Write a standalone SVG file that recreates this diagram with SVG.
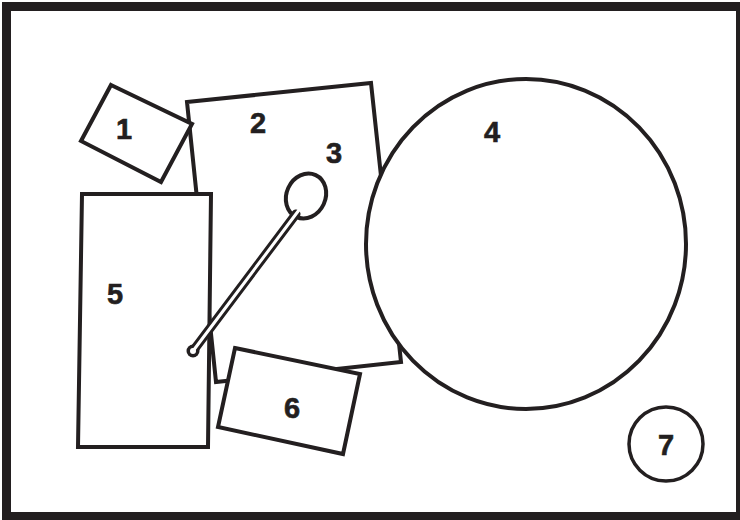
<svg xmlns="http://www.w3.org/2000/svg" width="740" height="520" viewBox="0 0 740 520">
<style>
.s{fill:#fff;stroke:#231f20;stroke-width:4;stroke-linejoin:miter}
.t{font-family:"Liberation Sans",Arial,sans-serif;font-weight:bold;font-size:29px;fill:#231f20;text-anchor:middle;stroke:#231f20;stroke-width:0.6}
</style>
<rect x="0" y="0" width="740" height="520" fill="#fff"/>
<rect id="frame" x="6.5" y="6.5" width="734" height="510" fill="none" stroke="#231f20" stroke-width="9"/>
<g id="n2">
<polygon class="s" points="187,102 371,83 401,362 216,382"/>
<text class="t" x="258" y="133">2</text>
</g>
<g id="n4">
<ellipse class="s" cx="526" cy="244" rx="160" ry="165"/>
<text class="t" x="492" y="142">4</text>
</g>
<g id="n1">
<polygon class="s" points="111,85 192,124 161,182 81,141"/>
<text class="t" x="124" y="139">1</text>
</g>
<g id="n5">
<polygon class="s" points="82,194 211,194 208,447 78,447"/>
<text class="t" x="115" y="304">5</text>
</g>
<g id="n6">
<polygon class="s" points="235,348 360,374 343,454 218,427"/>
<text class="t" x="292" y="418">6</text>
</g>
<g id="n3">
<ellipse class="s" cx="306" cy="196" rx="19.5" ry="23" transform="rotate(25 306 196)"/>
<line x1="193" y1="351" x2="296" y2="214" stroke="#231f20" stroke-width="9" stroke-linecap="round"/>
<circle cx="193" cy="351" r="6.5" fill="#231f20"/>
<line x1="193" y1="351" x2="299" y2="210" stroke="#fff" stroke-width="3" stroke-linecap="round"/>
<circle cx="193" cy="351" r="3" fill="#fff"/>
<text class="t" x="334" y="163">3</text>
</g>
<g id="n7">
<circle cx="666" cy="444" r="37" fill="#fff" stroke="#231f20" stroke-width="3.5"/>
<text class="t" x="666" y="455">7</text>
</g>
<g id="connectors"></g>
</svg>
